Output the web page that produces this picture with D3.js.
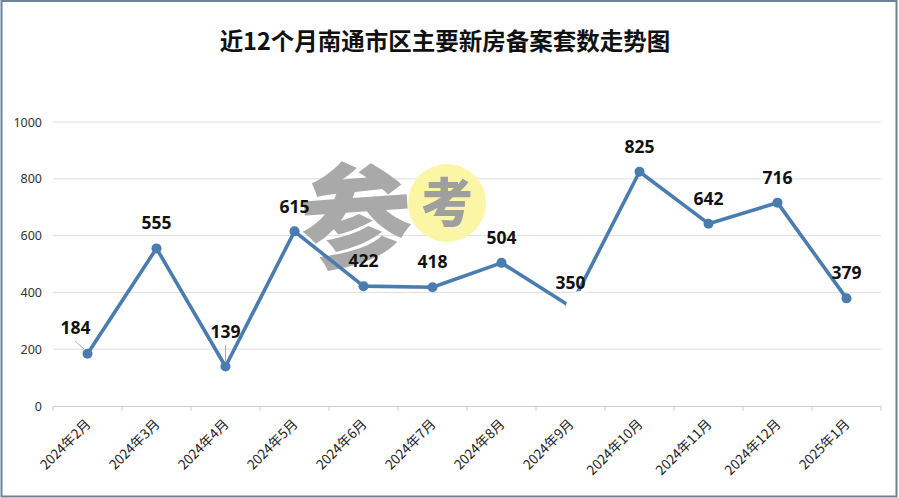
<!DOCTYPE html>
<html><head><meta charset="utf-8">
<script src="https://cdn.jsdelivr.net/npm/d3@7"></script>
<style>
html,body{margin:0;padding:0;background:#fff;}
svg{display:block;font-family:"Noto Sans","Noto Sans CJK SC",sans-serif;}
</style></head>
<body>
<svg id="chart" width="899" height="498"></svg>
<script>
const title = "近12个月南通市区主要新房备案套数走势图";
const months = ["2024年2月","2024年3月","2024年4月","2024年5月","2024年6月","2024年7月","2024年8月","2024年9月","2024年10月","2024年11月","2024年12月","2025年1月"];
const values = [184, 555, 139, 615, 422, 418, 504, 350, 825, 642, 716, 379];
const yTicks = [0, 200, 400, 600, 800, 1000];
// label placement tweaks (dx, dy of label centre from point)
const labelDx = [-12, 0, 0, 0, 0, 0, 0, 0, 0, 0, 0, 0];
const labelDy = [-26, -25, -35, -24, -25, -25, -25, -24, -25, -25, -25, -25];

const svg = d3.select("#chart");
const W = 899, H = 498;
const x = d3.scaleBand().domain(months).range([53, 881]);
const y = d3.scaleLinear().domain([0, 1000]).range([406, 122]);
const cx = d => x(d) + x.bandwidth() / 2;

// frame
svg.append("rect").attr("x", 1.5).attr("y", 1).attr("width", W - 4).attr("height", H - 2.5)
  .attr("fill", "#fff").attr("stroke", "#6d8497").attr("stroke-width", 2);

// title
svg.append("text").attr("x", 445).attr("y", 50).attr("text-anchor", "middle")
  .attr("font-family", "'Noto Sans CJK SC',sans-serif").attr("font-weight", 700)
  .attr("font-size", 23.5).attr("fill", "#111").text(title);

// gridlines
svg.append("g").selectAll("line").data(yTicks.filter(t => t > 0)).join("line")
  .attr("x1", 53).attr("x2", 881).attr("y1", d => y(d)).attr("y2", d => y(d))
  .attr("stroke", "#dedede").attr("stroke-width", 1);

// y axis labels
const ya = svg.append("g").attr("transform", "translate(53,0)")
  .call(d3.axisLeft(y).tickValues(yTicks).tickFormat(d3.format("d")).tickSize(0).tickPadding(11));
ya.select(".domain").remove();
ya.selectAll("text").attr("font-size", 12.5).attr("fill", "#333").attr("font-family", "'Noto Sans',sans-serif");

// x axis
const xa = svg.append("g").attr("transform", "translate(0,406)")
  .call(d3.axisBottom(x).tickSize(0).tickFormat(""));
xa.select(".domain").attr("stroke", "#cfcfcf");
const bounds = months.map(m => x(m)).concat([881]);
svg.append("g").selectAll("line").data(bounds).join("line")
  .attr("x1", d => d).attr("x2", d => d).attr("y1", 406).attr("y2", 411)
  .attr("stroke", "#cfcfcf");
svg.append("g").selectAll("text").data(months).join("text")
  .attr("transform", d => `translate(${cx(d) + 4},${425}) rotate(-45)`)
  .attr("text-anchor", "end").attr("font-size", 13.5).attr("fill", "#222")
  .attr("font-family", "'Noto Sans CJK SC',sans-serif")
  .text(d => d);

// watermark
svg.append("circle").attr("cx", 447).attr("cy", 203).attr("r", 39).attr("fill", "#fbf6a6");
svg.append("text").attr("x", 356).attr("y", 258).attr("text-anchor", "middle")
  .attr("font-family", "'Noto Sans CJK SC',sans-serif").attr("font-weight", 900)
  .attr("font-size", 112).attr("fill", "#a9a9a9").attr("transform", "rotate(-4,356,215)").text("参");
svg.append("text").attr("x", 447).attr("y", 222).attr("text-anchor", "middle")
  .attr("font-family", "'Noto Sans CJK SC',sans-serif").attr("font-weight", 900)
  .attr("font-size", 52).attr("fill", "#9f9f9f").text("考");

// leader lines
svg.append("line").attr("x1", 75).attr("y1", 341).attr("x2", 84).attr("y2", 349).attr("stroke", "#aaa");
svg.append("line").attr("x1", 225.5).attr("y1", 345).attr("x2", 225.5).attr("y2", 361).attr("stroke", "#aaa");

// line
const data = months.map((m, i) => ({m, v: values[i], i}));
svg.append("path").datum(data)
  .attr("d", d3.line().x(d => cx(d.m)).y(d => y(d.v)))
  .attr("fill", "none").attr("stroke", "#4a7cb0").attr("stroke-width", 3.6)
  .attr("stroke-linejoin", "round");
svg.append("g").selectAll("circle").data(data).join("circle")
  .attr("cx", d => cx(d.m)).attr("cy", d => y(d.v)).attr("r", 5)
  .attr("fill", "#4a7cb0");

// white blotch over Sept point (as in reference)
svg.append("ellipse").attr("cx", 580).attr("cy", 313).attr("rx", 15).attr("ry", 22).attr("fill", "#fff");

// data labels
svg.append("g").selectAll("text").data(data).join("text")
  .attr("x", d => cx(d.m) + labelDx[d.i]).attr("y", d => y(d.v) + labelDy[d.i] + 6)
  .attr("text-anchor", "middle").attr("font-size", 17.5).attr("font-weight", 700)
  .attr("fill", "#111").attr("font-family", "'Noto Sans',sans-serif")
  .text(d => d.v);
</script>
</body></html>
